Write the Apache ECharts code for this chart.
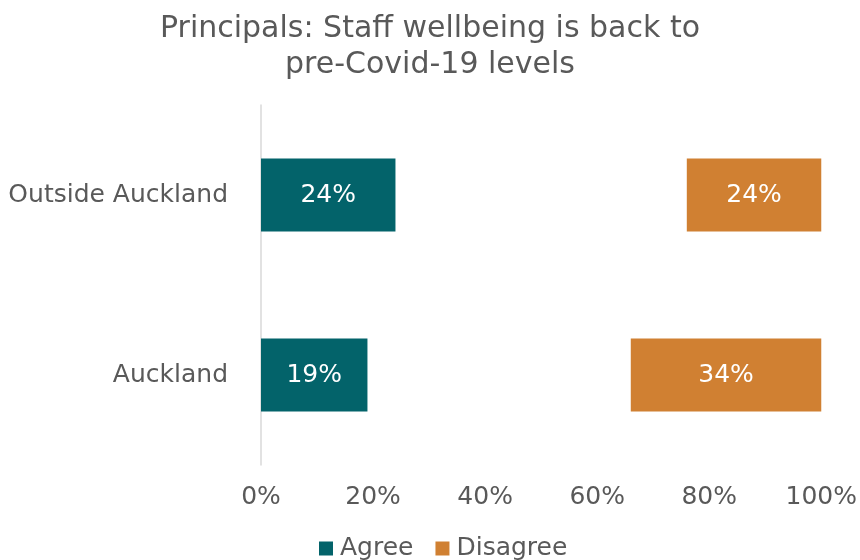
<!DOCTYPE html>
<html>
<head>
<meta charset="utf-8">
<script src="https://cdn.jsdelivr.net/npm/echarts@6/dist/echarts.min.js"></script>
<style>
  html, body { margin: 0; padding: 0; background: #fff; }
  #chart { width: 860px; height: 560px; }
</style>
</head>
<body>
<div id="chart"></div>
<script>
// Regions, bottom to top on the category axis
const regions = ['Auckland', 'Outside Auckland'];
const agree = [19, 24];
const disagree = [34, 24];
// Remaining share (neither), kept invisible so Disagree ends at 100%
const neither = agree.map((a, i) => 100 - a - disagree[i]);
const xTicks = [0, 20, 40, 60, 80, 100];

const FONT = 'DejaVu Sans';
const GREY = '#595959';

const chart = echarts.init(document.getElementById('chart'));
chart.setOption({
  animation: false,
  textStyle: { fontFamily: FONT },
  title: {
    text: 'Principals: Staff wellbeing is back to\npre-Covid-19 levels',
    left: 'center',
    top: 6,
    textStyle: { fontFamily: FONT, fontSize: 30, fontWeight: 'normal', color: GREY, lineHeight: 36 }
  },
  legend: {
    top: 536,
    left: 319,
    icon: 'rect',
    itemWidth: 14,
    itemHeight: 14,
    itemGap: 22,
    padding: 0,
    data: ['Agree', 'Disagree'],
    textStyle: { fontFamily: FONT, fontSize: 25, color: GREY, padding: [0, 0, 0, 2] }
  },
  grid: { left: 261, right: 38, top: 105, bottom: 95 },
  xAxis: {
    type: 'value',
    min: xTicks[0],
    max: xTicks[xTicks.length - 1],
    interval: 20,
    axisLine: { show: false },
    axisTick: { show: false },
    splitLine: { show: false },
    axisLabel: { formatter: '{value}%', fontSize: 25, color: GREY, margin: 20 }
  },
  yAxis: {
    type: 'category',
    data: regions,
    axisLine: { show: true, lineStyle: { color: '#d9d9d9', width: 1.5 } },
    axisTick: { show: false },
    axisLabel: { fontSize: 25, color: GREY, margin: 33 }
  },
  series: [
    {
      name: 'Agree', type: 'bar', stack: 'total', data: agree, barWidth: 73,
      itemStyle: { color: '#03636a' },
      label: { show: true, position: 'inside', formatter: '{c}%', color: '#fff', fontSize: 25 }
    },
    {
      name: 'Neither', type: 'bar', stack: 'total', data: neither,
      itemStyle: { color: 'transparent' },
      label: { show: false },
      emphasis: { disabled: true },
      tooltip: { show: false }
    },
    {
      name: 'Disagree', type: 'bar', stack: 'total', data: disagree,
      itemStyle: { color: '#d08032' },
      label: { show: true, position: 'inside', formatter: '{c}%', color: '#fff', fontSize: 25 }
    }
  ]
});
</script>
</body>
</html>
